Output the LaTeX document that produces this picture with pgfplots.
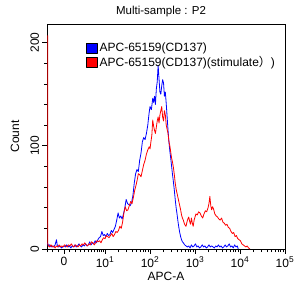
\documentclass[border=0pt]{standalone}
\usepackage{pgfplots}
\pgfplotsset{compat=1.18}
\usepackage{fontspec}
\setmainfont{Liberation Sans}
\newfontfamily\cjk{Noto Sans CJK SC}
\definecolor{fcsblue}{RGB}{0,0,255}
\definecolor{fcsred}{RGB}{255,0,0}
\begin{document}
\begin{tikzpicture}
\begin{axis}[
  scale only axis, width=238bp, height=225bp,
  xmin=-0.29, xmax=5, ymin=0, ymax=218,
  axis line style={line width=0.8bp},
  xtick={0.089,1,2,3,4,5},
  xticklabels={0,10\textsuperscript{1},10\textsuperscript{2},10\textsuperscript{3},10\textsuperscript{4},10\textsuperscript{5}},
  minor xtick={-0.29,-0.171,-0.044,0.2,0.333,0.444,0.549,0.629,0.704,0.771,0.829,0.882,0.927,0.962,
    1.301,1.477,1.602,1.699,1.778,1.845,1.903,1.954,
    2.301,2.477,2.602,2.699,2.778,2.845,2.903,2.954,
    3.301,3.477,3.602,3.699,3.778,3.845,3.903,3.954,
    4.301,4.477,4.602,4.699,4.778,4.845,4.903,4.954},
  ytick={0,100,200}, yticklabels={0,100,200},
  minor ytick={20,40,60,80,120,140,160,180},
  tick align=outside, xtick pos=bottom, ytick pos=left,
  major tick length=4.5bp, minor tick length=3bp,
  every tick/.style={black, line width=0.6bp},
  ticklabel style={font=\fontsize{12bp}{14bp}\selectfont},
  yticklabel style={rotate=90, anchor=south},
  title={Multi-sample : P2},
  title style={at={(rel axis cs:0.479,1.03)}, anchor=center, font=\fontsize{11.5bp}{13bp}\selectfont},
  xlabel={APC-A},
  xlabel style={at={(rel axis cs:0.5,-0.12)}, anchor=center, font=\fontsize{12bp}{14bp}\selectfont},
  ylabel={Count},
  ylabel style={at={(rel axis cs:-0.134,0.5)}, anchor=center, font=\fontsize{12bp}{14bp}\selectfont},
  legend style={at={(0.163,0.925)}, anchor=north west, draw=none, fill=none,
    font=\fontsize{12bp}{14bp}\selectfont, row sep=-1bp, inner sep=0pt,
    /tikz/every even column/.append style={column sep=4bp}},
  legend cell align=left,
]
\addplot[fcsblue, line width=0.8bp, line join=round,
  legend image code/.code={\filldraw[fill=fcsblue, draw=black, line width=0.6bp] (0bp,-5bp) rectangle (11bp,5bp);}]
coordinates {
(-0.28,6)(-0.26,3)(-0.23,4)(-0.20,2)(-0.17,3)(-0.14,2)(-0.11,4)(-0.08,9)(-0.06,3)(-0.03,2)
(0.00,3)(0.03,1)(0.06,2)(0.09,3)(0.12,2)(0.15,4)(0.18,2)(0.21,3)(0.24,1)(0.27,3)
(0.30,2)(0.33,4)(0.36,2)(0.39,3)(0.42,5)(0.45,3)(0.48,2)(0.51,4)(0.54,3)(0.57,5)
(0.60,3)(0.63,4)(0.66,7)(0.69,4)(0.72,6)(0.75,5)(0.78,8)(0.81,6)(0.84,9)(0.87,11)
(0.90,12)(0.93,17)(0.96,13)(0.99,14)(1.02,12)(1.05,15)(1.08,13)(1.11,14)(1.14,18)(1.17,16)
(1.20,19)(1.23,22)(1.26,28)(1.29,35)(1.32,30)(1.35,32)(1.38,29)(1.41,34)(1.44,40)(1.47,48)
(1.50,44)(1.53,43)(1.56,42)(1.59,45)(1.62,52)(1.65,64)(1.68,73)(1.71,77)(1.74,75)(1.77,86)
(1.80,93)(1.83,104)(1.86,108)(1.89,106)(1.92,112)(1.95,120)(1.98,132)(2.00,138)(2.03,135)(2.06,146)
(2.08,142)(2.10,148)(2.12,140)(2.14,155)(2.16,162)(2.18,178)(2.20,165)(2.22,152)(2.24,150)(2.26,158)
(2.28,164)(2.30,161)(2.32,148)(2.34,152)(2.36,141)(2.38,128)(2.40,115)(2.42,104)(2.44,95)(2.46,88)
(2.48,80)(2.50,72)(2.52,65)(2.54,57)(2.56,48)(2.58,40)(2.60,34)(2.62,27)(2.64,21)(2.66,16)
(2.68,12)(2.70,9)(2.72,7)(2.74,6)(2.77,4)(2.80,3)(2.83,2)(2.86,3)(2.89,1)(2.92,4)
(2.95,2)(2.98,3)(3.01,5)(3.04,2)(3.07,3)(3.10,1)(3.13,2)(3.16,4)(3.19,2)(3.22,3)
(3.25,1)(3.28,2)(3.31,4)(3.34,2)(3.37,3)(3.40,2)(3.43,1)(3.46,3)(3.49,2)(3.52,4)
(3.55,2)(3.58,3)(3.61,1)(3.64,2)(3.67,4)(3.70,2)(3.73,3)(3.76,5)(3.79,2)(3.82,3)
(3.85,1)(3.88,4)(3.91,2)(3.94,3)(3.96,0)
};
\addlegendentry{APC-65159(CD137)}
\addplot[fcsred, line width=0.8bp, line join=round,
  legend image code/.code={\filldraw[fill=fcsred, draw=black, line width=0.6bp] (0bp,-5bp) rectangle (11bp,5bp);}]
coordinates {
(-0.274,207)(-0.272,5)(-0.26,3)(-0.23,2)(-0.20,4)(-0.17,2)(-0.14,3)(-0.11,1)(-0.08,3)(-0.05,2)
(-0.02,4)(0.01,2)(0.04,3)(0.07,2)(0.10,4)(0.13,3)(0.16,2)(0.19,4)(0.22,3)(0.25,5)
(0.28,3)(0.31,2)(0.34,4)(0.37,3)(0.40,2)(0.43,4)(0.46,3)(0.49,5)(0.52,4)(0.55,6)
(0.58,4)(0.61,3)(0.64,5)(0.67,4)(0.70,7)(0.73,6)(0.76,4)(0.79,6)(0.82,8)(0.85,7)
(0.88,8)(0.91,6)(0.94,9)(0.97,11)(1.00,10)(1.03,13)(1.06,12)(1.09,11)(1.12,13)(1.15,15)
(1.18,12)(1.21,14)(1.24,17)(1.27,16)(1.30,18)(1.33,22)(1.36,20)(1.39,26)(1.42,35)(1.45,41)
(1.48,37)(1.51,38)(1.54,42)(1.57,46)(1.60,44)(1.63,50)(1.66,57)(1.69,62)(1.72,68)(1.74,73)
(1.77,72)(1.80,70)(1.83,76)(1.86,82)(1.89,86)(1.92,92)(1.95,96)(1.98,99)(2.00,97)(2.02,104)
(2.04,110)(2.06,125)(2.08,119)(2.10,115)(2.12,112)(2.14,118)(2.16,124)(2.18,128)(2.20,122)(2.22,130)
(2.24,134)(2.26,138)(2.28,128)(2.30,124)(2.32,134)(2.34,130)(2.36,120)(2.38,116)(2.40,112)(2.42,104)
(2.44,100)(2.46,94)(2.48,88)(2.50,84)(2.52,79)(2.54,72)(2.56,64)(2.58,58)(2.60,54)(2.62,50)
(2.64,46)(2.66,42)(2.68,38)(2.70,33)(2.72,30)(2.74,28)(2.76,25)(2.78,23)(2.80,22)(2.82,26)
(2.84,29)(2.86,31)(2.88,27)(2.90,24)(2.92,30)(2.94,25)(2.96,22)(2.98,28)(3.00,31)(3.02,34)
(3.05,33)(3.08,36)(3.11,35)(3.14,32)(3.17,30)(3.20,34)(3.23,37)(3.26,36)(3.29,40)(3.31,44)
(3.33,51)(3.35,42)(3.37,38)(3.39,41)(3.41,39)(3.44,34)(3.47,32)(3.50,31)(3.53,29)(3.56,28)
(3.59,30)(3.62,26)(3.65,25)(3.68,23)(3.71,24)(3.74,21)(3.77,20)(3.80,17)(3.83,15)(3.86,16)
(3.89,12)(3.92,13)(3.95,10)(3.98,9)(4.01,8)(4.04,5)(4.07,4)(4.10,3)(4.13,2)(4.16,3)
(4.19,1)(4.22,0)
};
\addlegendentry{APC-65159(CD137)(stimulate{\cjk ）})}
\node[text=black!15, anchor=west, font=\fontsize{11bp}{13bp}\selectfont] at (rel axis cs:0.585,-0.117) {WWW.PTGLAB.COM};
\end{axis}
\pgfresetboundingbox
\path (-47bp,-47bp) rectangle (249bp,249bp);
\end{tikzpicture}
\end{document}
